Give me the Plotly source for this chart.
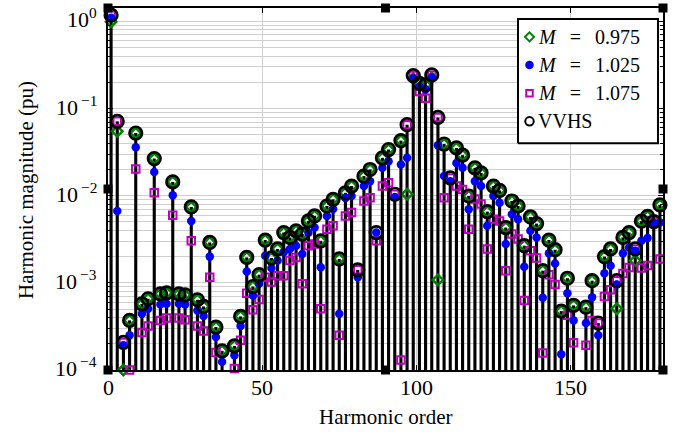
import math
import plotly.graph_objects as go

# ---------------- data (odd harmonics 1..179) ----------------
harmonics = list(range(1, 180, 2))

vvhs = [
    1.18, 0.0713, 2.07e-4, 3.71e-4, 0.0524, 5.75e-4, 6.57e-4, 0.0267, 7.49e-4, 7.69e-4,
    0.0144, 7.49e-4, 7.29e-4, 0.00743, 6.40e-4, 5.36e-4, 0.00291, 3.11e-4, 1.66e-4, None,
    1.89e-4, 4.12e-4, 0.00196, 9.08e-4, 0.00124, 0.00310, 0.00193, 0.00245, 0.00378, 0.00332,
    0.00395, 0.00363, 0.00514, 0.00586, 0.00304, 0.00762, 0.00910, 0.00188, 0.0108, 0.0129,
    0.00141, 0.0168, 0.0200, 0.00378, 0.0272, 0.0339, 0.0104, 0.0429, 0.0653, 0.239,
    0.195, 0.187, 0.243, 0.0791, 0.0392, 0.0160, 0.0353, 0.0292, 0.00993, 0.0209,
    0.0183, 0.00657, 0.0129, 0.0115, 0.00431, 0.00870, 0.00762, 0.00267, 0.00571, 0.00479,
    0.00138, 0.00310, 0.00240, 4.74e-4, 0.00113, 5.51e-4, None, 5.26e-4, 0.00106, 3.46e-4,
    0.00200, 0.00245, 0.00106, 0.00332, 0.00378, 0.00245, 0.0051, 0.0058, 0.00505, 0.00783,
]

m_0975 = [
    0.99, 0.0548, 1.0e-4, 3.71e-4, 0.0524, 5.75e-4, 6.57e-4, 0.0267, 7.49e-4, 7.69e-4,
    0.0144, 7.49e-4, 7.29e-4, 0.00743, 6.40e-4, 5.36e-4, 0.00291, 3.11e-4, 1.66e-4, None,
    1.89e-4, 4.12e-4, 0.00196, 9.08e-4, 0.00124, 0.00310, 0.00193, 0.00245, 0.00378, 0.00332,
    0.00395, 0.00363, 0.00514, 0.00586, 0.00304, 0.00762, 0.00910, 0.00188, 0.0108, 0.0129,
    None, 0.0168, 0.0200, None, 0.0272, 0.0339, None, 0.0429, 0.0104, 0.221,
    0.195, 0.187, 0.226, 0.00108, 0.0392, None, 0.0353, 0.0292, 0.00993, 0.0209,
    0.0183, 0.00657, 0.0129, 0.0115, 0.00431, 0.00870, 0.00762, 0.00267, 0.00571, 0.00479,
    0.00138, 0.00310, 0.00240, 4.74e-4, 0.00113, 5.51e-4, None, 5.26e-4, 0.00106, None,
    0.00200, 0.00245, 5.05e-4, 0.00332, 0.00378, 0.00180, 0.0051, 0.0058, None, 0.00783,
]

m_1025 = [
    1.10, 0.00669, 1.92e-4, 2.50e-4, 0.0360, 4.43e-4, 5.05e-4, 0.0187, 5.65e-4, 5.75e-4,
    0.0101, 5.75e-4, 5.65e-4, 0.00514, 4.83e-4, 4.16e-4, 0.00200, 2.39e-4, 1.24e-4, None,
    1.48e-4, 3.20e-4, 0.00135, 7.16e-4, 9.75e-4, 0.00205, 0.00148, 0.00180, 0.00224, 0.00245,
    0.00267, 0.00214, 0.00375, 0.00431, 0.00151, 0.00586, 0.00705, 4.43e-4, 0.00941, 0.00993,
    0.00116, 0.0129, 0.0147, 0.00378, 0.0209, 0.0249, 0.00966, 0.0228, 0.0272, 0.221,
    0.179, 0.165, 0.226, 0.0379, 0.0168, 0.0147, 0.0238, 0.0209, 0.00700, 0.0147,
    0.0129, 0.00451, 0.00993, 0.00832, 0.00279, 0.00613, 0.00538, 0.00153, 0.00395, 0.00332,
    6.75e-4, 0.00218, 0.00167, 1.52e-4, 7.60e-4, 3.71e-4, None, 3.46e-4, 6.85e-4, 2.50e-4,
    0.00129, 0.00157, 9.57e-4, 0.00218, 0.00255, 0.00234, 0.00304, 0.00327, 0.00490, 0.00492,
]

m_1075 = [
    1.18, 0.0713, 2.07e-4, 1.0e-4, 0.0202, 2.69e-4, 3.20e-4, 0.0108, 3.71e-4, 3.94e-4,
    0.00597, 3.94e-4, 3.78e-4, 0.00304, 3.20e-4, 2.80e-4, 0.00116, 1.59e-4, None, None,
    1.04e-4, 2.19e-4, 7.60e-4, 4.92e-4, 6.45e-4, 0.00116, 0.00102, 0.00121, 0.00121, 0.00180,
    0.00196, 9.75e-4, 0.00267, 0.00279, 5.05e-4, 0.00413, 0.00451, 2.50e-4, 0.00586, 0.00640,
    0.00141, 0.00870, 0.00949, 0.00304, 0.0129, 0.0141, 0.0104, 1.30e-4, 0.0653, 0.239,
    0.157, 0.131, 0.243, 0.0791, 0.00949, 0.0160, 0.0129, 0.0118, 0.00413, 0.00917,
    0.00804, 0.00245, 0.00538, 0.00514, 0.00138, 0.00363, 0.00318, 6.28e-4, 0.00234, 0.00193,
    1.57e-4, 0.00124, 9.57e-4, None, 4.24e-4, 2.05e-4, None, 1.92e-4, 3.71e-4, 3.46e-4,
    6.98e-4, 8.32e-4, 0.00106, 0.00128, 0.00150, 0.00245, 0.00148, 0.00158, 0.00505, 0.00188,
]

series_names = ["<i>M</i>\u2002\u2009=\u2002\u20090.975",
                "<i>M</i>\u2002\u2009=\u2002\u20091.025",
                "<i>M</i>\u2002\u2009=\u2002\u20091.075",
                "VVHS"]

x_title = "Harmonic order"
y_title = "Harmonic magnitude (pu)"
x_tickvals = [0, 50, 100, 150]
x_ticktext = ["0", "50", "100", "150"]
y_tickvals = [1e-4, 1e-3, 1e-2, 1e-1, 1]
y_ticktext = ["10<sup>\u2009\u22124</sup>", "10<sup>\u2009\u22123</sup>",
              "10<sup>\u2009\u22122</sup>", "10<sup>\u2009\u22121</sup>",
              "10<sup>0</sup>"]

# ---------------- styling ----------------
FONT = "Liberation Serif"
YBASE = 1e-4
GREEN, BLUE, MAGENTA = "#008000", "#0000FF", "#BF00BF"

styles = [
    dict(symbol="diamond-open", size=8, color=GREEN, line=dict(width=2.5, color=GREEN)),
    dict(symbol="circle", size=8.5, color=BLUE, line=dict(width=0)),
    dict(symbol="square-open", size=7.5, color=MAGENTA, line=dict(width=2, color=MAGENTA)),
    dict(symbol="circle-open", size=12.5, color="black", line=dict(width=2.7, color="black")),
]
legend_styles = [
    dict(symbol="diamond-open", size=7, color=GREEN, line=dict(width=2, color=GREEN)),
    dict(symbol="circle", size=8.5, color=BLUE, line=dict(width=0)),
    dict(symbol="square-open", size=6.5, color=MAGENTA, line=dict(width=2, color=MAGENTA)),
    dict(symbol="circle-open", size=8.5, color="black", line=dict(width=2, color="black")),
]

fig = go.Figure()

# stems (to the VVHS envelope)
stem_x, stem_y = [], []
for h, v in zip(harmonics, vvhs):
    if v is None:
        continue
    stem_x += [h, h, None]
    stem_y += [YBASE, v, None]
fig.add_trace(go.Scatter(x=stem_x, y=stem_y, mode="lines",
                         line=dict(color="black", width=3.1),
                         showlegend=False, hoverinfo="skip"))

series = [m_0975, m_1025, m_1075, vvhs]
for idx in (0, 2, 1, 3):  # magenta under blue, rings on top
    fig.add_trace(go.Scatter(x=harmonics, y=series[idx], mode="markers",
                             name=series_names[idx], showlegend=False,
                             cliponaxis=False, marker=styles[idx]))

# ---------------- hand-made legend on an overlay axis ----------------
# plot box: x 108..663 px, y 6..370 px
def fx(px):
    return (px - 108) / 555.0

def fy(py):
    return (370 - py) / 364.0

bx0, bx1, by0, by1 = fx(518), fx(658), fy(142), fy(17)
fig.add_trace(go.Scatter(x=[bx0, bx1, bx1, bx0, bx0], y=[by0, by0, by1, by1, by0],
                         xaxis="x2", yaxis="y2", mode="lines", fill="toself",
                         fillcolor="white", line=dict(color="black", width=2),
                         showlegend=False, hoverinfo="skip"))
row_y = [fy(35), fy(63.3), fy(91.7), fy(120)]
sym_x = fx(529.5)
for i in range(4):
    fig.add_trace(go.Scatter(x=[sym_x], y=[row_y[i]], xaxis="x2", yaxis="y2",
                             mode="markers", marker=legend_styles[i],
                             showlegend=False, hoverinfo="skip"))

TXT = dict(family=FONT, color="black")
annotations = [dict(x=fx(536), y=row_y[i], xref="paper", yref="paper",
                    xanchor="left", yanchor="middle", showarrow=False,
                    text=series_names[i], font=dict(TXT, size=20))
               for i in range(4)]

# tick labels placed through the axes' own scales
for v, t in zip(x_tickvals, x_ticktext):
    annotations.append(dict(x=v, xref="x", y=fy(388), yref="paper",
                            xanchor="center", yanchor="middle", showarrow=False,
                            text=t, font=dict(TXT, size=22)))
for v, t in zip(y_tickvals, y_ticktext):
    annotations.append(dict(x=fx(99), xref="paper", y=math.log10(v), yref="y",
                            xanchor="right", yanchor="middle", yshift=3,
                            showarrow=False, text=t, font=dict(TXT, size=22)))
annotations.append(dict(x=0.5, xref="paper", y=fy(417), yref="paper",
                        xanchor="center", yanchor="middle", showarrow=False,
                        text=x_title, font=dict(TXT, size=21)))
annotations.append(dict(x=fx(26), xref="paper", y=fy(189), yref="paper",
                        xanchor="center", yanchor="middle", showarrow=False,
                        textangle=-90, text=y_title, font=dict(TXT, size=21)))

# ---------------- axes ----------------
minor_vals = [k * 10.0 ** e for e in range(-4, 1) for k in range(2, 10)]
grid_col = "#cfcfcf"

fig.update_layout(
    xaxis=dict(range=[0, 180], tickvals=x_tickvals, showticklabels=False,
               ticks="inside", ticklen=5, tickcolor="black",
               showline=True, linecolor="black", linewidth=2, mirror="ticks",
               showgrid=True, gridcolor=grid_col, gridwidth=1, zeroline=False),
    yaxis=dict(type="log", range=[-4, 0.154], tickvals=y_tickvals, showticklabels=False,
               ticks="inside", ticklen=5, tickcolor="black",
               showline=True, linecolor="black", linewidth=2, mirror="ticks",
               showgrid=True, gridcolor=grid_col, gridwidth=1, zeroline=False,
               minor=dict(tickvals=minor_vals, ticks="inside", ticklen=3,
                          tickcolor="black", showgrid=True, gridcolor=grid_col,
                          gridwidth=1)),
    xaxis2=dict(overlaying="x", anchor="y2", range=[0, 1], visible=False, fixedrange=True),
    yaxis2=dict(overlaying="y", anchor="x2", range=[0, 1], visible=False, fixedrange=True),
)

# edit-mode selection handles on the axes box
handles = []
for px in (0, 0.5, 1):
    for py in (0, 0.5, 1):
        if px == 0.5 and py == 0.5:
            continue
        handles.append(dict(type="rect", xref="paper", yref="paper",
                            xsizemode="pixel", ysizemode="pixel",
                            xanchor=px, yanchor=py, x0=-4.5, x1=4.5, y0=-4.5, y1=4.5,
                            fillcolor="black", line=dict(width=0), layer="above"))

fig.update_layout(
    width=685, height=432,
    margin=dict(l=108, r=22, t=6, b=62),
    paper_bgcolor="white", plot_bgcolor="white",
    font=dict(family=FONT, color="black"),
    shapes=handles, annotations=annotations,
    showlegend=False, hovermode=False,
)

fig.write_html(
    "out.html",
    config={"displayModeBar": False, "staticPlot": True},
    post_script="document.body.style.margin='0px';document.body.style.padding='0px';"
                "document.documentElement.style.overflow='hidden';",
)
